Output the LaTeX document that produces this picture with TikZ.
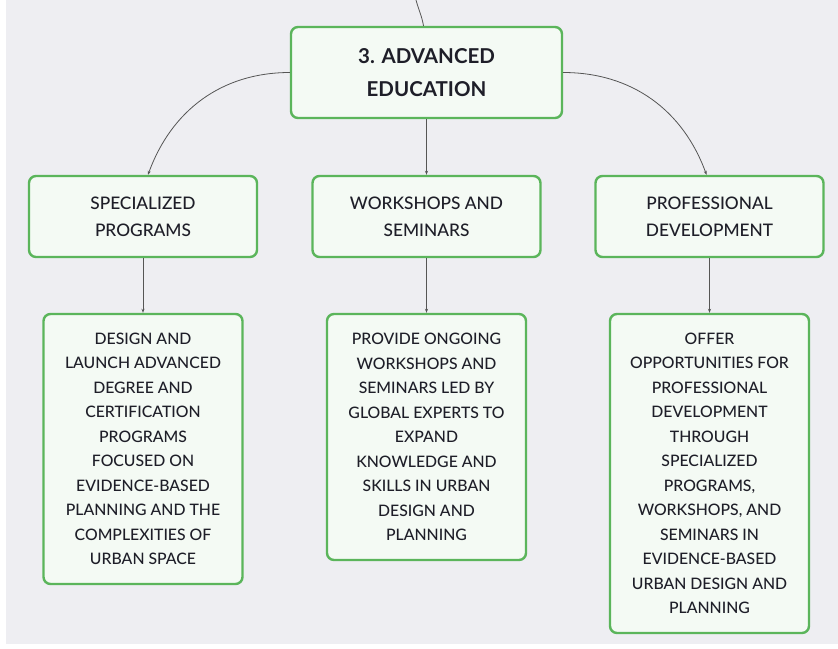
\documentclass[tikz,border=0pt]{standalone}
\usepackage{fontspec}
\setmainfont{Lato}
\newfontfamily\medfont{Lato Medium}
\usetikzlibrary{arrows.meta}
\definecolor{bggray}{HTML}{EEEEF2}
\definecolor{boxgreen}{HTML}{5BB55B}
\definecolor{boxfill}{HTML}{F4FAF4}
\definecolor{textdark}{HTML}{1E1E28}
\definecolor{linkgray}{HTML}{555555}
\tikzset{
    topicbox/.style={rectangle, rounded corners=7pt, draw=boxgreen, line width=2.4pt, fill=boxfill,
        text=textdark, align=center, inner sep=0pt},
    headbox/.style={topicbox, minimum width=271pt, minimum height=91pt,
        font=\fontsize{20.5}{33}\selectfont\bfseries},
    subbox/.style={topicbox, minimum width=228pt, minimum height=81pt,
        font=\fontsize{17.3}{27}\selectfont\medfont},
    notebox/.style={topicbox, minimum width=199pt, font=\fontsize{15.8}{24.5}\selectfont\medfont},
    link/.style={draw=linkgray, line width=0.8pt, -{Stealth[length=4pt,width=3pt]}}
}
\begin{document}
\begin{tikzpicture}[x=1pt, y=-1pt]
    % Canvas
    \useasboundingbox (0,0) rectangle (838,648);
    \fill[white] (0,0) rectangle (838,648);
    \fill[bggray] (6,0) rectangle (838,644);

    % Main topic
    \node[headbox] (edu) at (426.5,72.5) {3. ADVANCED\\EDUCATION};
    \coordinate (top) at (416,0);
    \draw[linkgray, line width=0.8pt] (top) to[out=-75,in=100] ([xshift=-3pt]edu.north);

    % Subtopics
    \node[subbox] (spec) at (143,216.5) {SPECIALIZED\\PROGRAMS};
    \node[subbox] (work) at (426.5,216.5) {WORKSHOPS AND\\SEMINARS};
    \node[subbox] (prof) at (709.5,216.5) {PROFESSIONAL\\DEVELOPMENT};

    \draw[link] (edu.west) to[out=180,in=70] ([xshift=5pt]spec.north);
    \draw[link] (edu.south) -- (work.north);
    \draw[link] (edu.east) to[out=0,in=110] ([xshift=-3pt]prof.north);

    % Details
    \node[notebox, minimum height=270pt] (specnote) at (143,449)
        {DESIGN AND\\LAUNCH ADVANCED\\DEGREE AND\\CERTIFICATION\\PROGRAMS\\FOCUSED ON\\EVIDENCE-BASED\\PLANNING AND THE\\COMPLEXITIES OF\\URBAN SPACE};
    \node[notebox, minimum height=246pt] (worknote) at (426.5,437)
        {PROVIDE ONGOING\\WORKSHOPS AND\\SEMINARS LED BY\\GLOBAL EXPERTS TO\\EXPAND\\KNOWLEDGE AND\\SKILLS IN URBAN\\DESIGN AND\\PLANNING};
    \node[notebox, minimum height=319pt] (profnote) at (709.5,473.5)
        {OFFER\\OPPORTUNITIES FOR\\PROFESSIONAL\\DEVELOPMENT\\THROUGH\\SPECIALIZED\\PROGRAMS,\\WORKSHOPS, AND\\SEMINARS IN\\EVIDENCE-BASED\\URBAN DESIGN AND\\PLANNING};

    \draw[link] (spec) -- (specnote);
    \draw[link] (work) -- (worknote);
    \draw[link] (prof) -- (profnote);
\end{tikzpicture}
\end{document}
